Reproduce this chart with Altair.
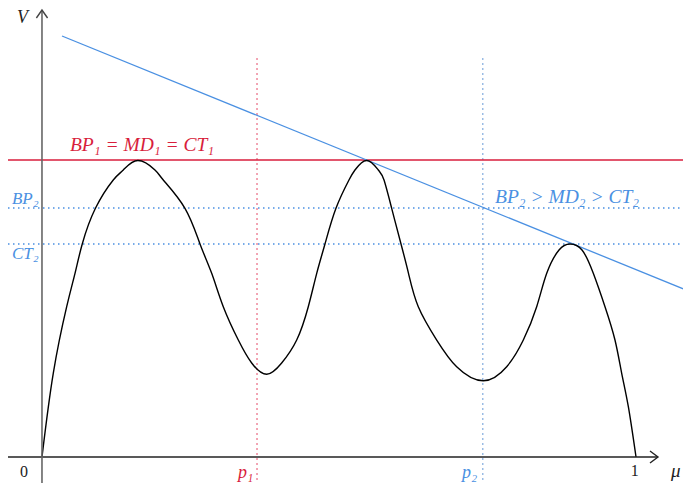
import altair as alt
import pandas as pd

# ---- data (mu on x, V on y) ----
curve_mu = [0.0, 0.0190, 0.0416, 0.0556, 0.0678, 0.0900, 0.1200, 0.1369, 0.1615,
            0.1902, 0.2042, 0.2407, 0.2660, 0.2857, 0.3052, 0.3305, 0.3530, 0.3783,
            0.4035, 0.4288, 0.4483, 0.4625, 0.4764, 0.4949, 0.5168, 0.5269, 0.5466,
            0.5662, 0.5758, 0.5887, 0.6044, 0.6170, 0.6335, 0.6645, 0.6981, 0.7429,
            0.7823, 0.8103, 0.8328, 0.8497, 0.8704, 0.8889,
            0.9091, 0.9281, 0.9478, 0.9646, 0.9759, 0.9871, 1.0]
curve_V = [0.0, 0.2818, 0.5061, 0.6185, 0.7172, 0.8374, 0.9327, 0.9663, 0.9983,
           0.9663, 0.9327, 0.8374, 0.7172, 0.6185, 0.5061, 0.3939, 0.3165, 0.2785,
           0.3165, 0.3939, 0.5061, 0.6185, 0.7172, 0.8374, 0.9327, 0.9663, 0.9983,
           0.9663, 0.9327, 0.8374, 0.7172, 0.6185, 0.5061, 0.3939, 0.3040, 0.2569,
           0.3040, 0.3939, 0.5061, 0.6185, 0.6970, 0.7172,
           0.6970, 0.6185, 0.5061, 0.3939, 0.2818, 0.1694, 0.0]

tangent_mu = [0.0337, 1.0926]
tangent_V = [1.4175, 0.5556]

level_1 = 1.0          # BP1 = MD1 = CT1
level_BP2 = 0.838
level_CT2 = 0.717
p1 = 0.362
p2 = 0.742

x_min, x_max = -0.0572, 1.0791
y_min, y_max = -0.0875, 1.5118
x_axis_end = 1.037
y_axis_end = 1.505
dotted_top = 1.343

RED = "#d81e3c"
BLUE = "#4a90e2"
SERIF = "Liberation Serif"

xs = alt.Scale(domain=[x_min, x_max], nice=False, zero=False)
ys = alt.Scale(domain=[y_min, y_max], nice=False, zero=False)

def X(f="x"):
    return alt.X(f"{f}:Q", scale=xs, axis=None)

def Y(f="y"):
    return alt.Y(f"{f}:Q", scale=ys, axis=None)

curve_df = pd.DataFrame({"x": curve_mu, "y": curve_V})
tan_df = pd.DataFrame({"x": tangent_mu, "y": tangent_V})

curve = alt.Chart(curve_df).mark_line(color="black", strokeWidth=1.4,
                                      interpolate="natural", clip=True).encode(x=X(), y=Y())
tangent = alt.Chart(tan_df).mark_line(color=BLUE, strokeWidth=1.3, clip=True).encode(x=X(), y=Y())

red_df = pd.DataFrame({"x": [x_min], "x2": [x_max], "y": [level_1]})
red_rule = alt.Chart(red_df).mark_rule(color=RED, strokeWidth=1.6).encode(
    x=X(), x2="x2:Q", y=Y())

hdot_df = pd.DataFrame({"x": [x_min, x_min], "x2": [x_max, x_max], "y": [level_BP2, level_CT2]})
hdots = alt.Chart(hdot_df).mark_rule(color=BLUE, strokeWidth=1.5, strokeDash=[1.5, 3.5]).encode(
    x=X(), x2="x2:Q", y=Y())

vdot_df = pd.DataFrame({"x": [p1, p2], "y": [dotted_top, dotted_top], "y2": [y_min, y_min],
                        "c": ["p1", "p2"]})
vdots = alt.Chart(vdot_df).mark_rule(strokeWidth=1.5, strokeDash=[1.5, 3.5]).encode(
    x=X(), y=Y(), y2="y2:Q",
    color=alt.Color("c:N", scale=alt.Scale(domain=["p1", "p2"], range=["#e8607a", "#7aa6dc"]),
                    legend=None))

xaxis_df = pd.DataFrame({"x": [x_min], "x2": [x_axis_end], "y": [0.0]})
xaxis = alt.Chart(xaxis_df).mark_rule(color="#222222", strokeWidth=1.4).encode(
    x=X(), x2="x2:Q", y=Y())
yaxis_df = pd.DataFrame({"x": [0.0], "y": [y_min], "y2": [y_axis_end]})
yaxis = alt.Chart(yaxis_df).mark_rule(color="#666666", strokeWidth=1.6).encode(
    x=X(), y=Y(), y2="y2:Q")

xarrow = alt.Chart(pd.DataFrame({"x": [x_axis_end], "y": [0.0]})).mark_point(
    shape="M -1 -0.75 L 0 0 L -1 0.75", size=256, filled=False, opacity=1,
    stroke="#222222", strokeWidth=1.4).encode(x=X(), y=Y())
yarrow = alt.Chart(pd.DataFrame({"x": [0.0], "y": [y_axis_end]})).mark_point(
    shape="M -0.7 1 L 0 0 L 0.7 1", size=256, filled=False, opacity=1,
    stroke="#444444", strokeWidth=1.4).encode(x=X(), y=Y())

labels_df = pd.DataFrame({
    "x": [-0.0330, 0.0471, 0.7626, -0.0505, -0.0505, 0.330, 0.707],
    "y": [1.4613, 1.030, 0.855, 0.852, 0.666, -0.0690, -0.0690],
    "t": ["V", "BP₁ = MD₁ = CT₁", "BP₂ > MD₂ > CT₂", "BP₂", "CT₂", "p₁", "p₂"],
    "c": ["#222222", RED, BLUE, BLUE, BLUE, RED, BLUE],
    "s": [18, 19.5, 19.5, 17, 17, 18, 18],
    "a": ["center", "left", "left", "left", "left", "left", "left"],
})

def text_layer(row):
    d = pd.DataFrame({"x": [row.x], "y": [row.y], "t": [row.t]})
    return alt.Chart(d).mark_text(font=SERIF, fontStyle="italic", fontSize=float(row.s),
                                  color=row.c, align=row.a, baseline="alphabetic").encode(
        x=X(), y=Y(), text="t:N")

texts = [text_layer(r) for r in labels_df.itertuples()]

ticks_df = pd.DataFrame({"x": [-0.0303, 0.998], "y": [-0.0673, -0.0640], "t": ["0", "1"]})
ticks = alt.Chart(ticks_df).mark_text(font=SERIF, fontSize=16, color="#222222",
                                      align="center", baseline="alphabetic").encode(
    x=X(), y=Y(), text="t:N")
mu_df = pd.DataFrame({"x": [1.067], "y": [-0.0673], "t": ["μ"]})
mu_lbl = alt.Chart(mu_df).mark_text(font=SERIF, fontStyle="italic", fontSize=19, color="#222222",
                                    align="center", baseline="alphabetic").encode(
    x=X(), y=Y(), text="t:N")

chart = alt.layer(
    hdots, vdots, red_rule, tangent, curve, xaxis, yaxis, xarrow, yarrow, ticks, mu_lbl, *texts
).properties(
    width=675, height=475, padding=0,
    autosize=alt.AutoSizeParams(type="none")
).configure(background="white", view=alt.ViewConfig(stroke=None))

chart.save("out.html", embed_options={"renderer": "svg", "actions": False})
